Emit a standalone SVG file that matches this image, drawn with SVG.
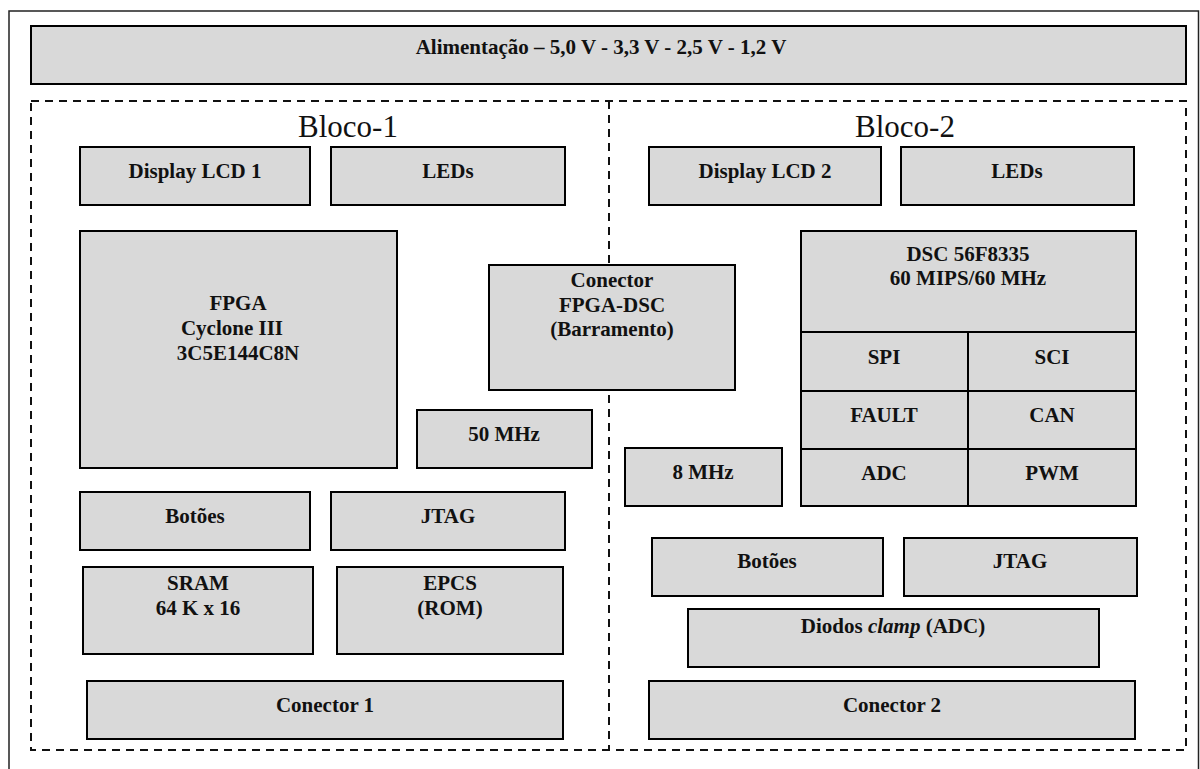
<svg xmlns="http://www.w3.org/2000/svg" width="1200" height="769" viewBox="0 0 1200 769">
  <style>
    .box { fill: #d9d9d9; stroke: #000; stroke-width: 2; }
    .cell { fill: none; stroke: #000; stroke-width: 2; }
    .lbl { font-family: "Liberation Serif", "Times New Roman", serif; font-weight: bold; font-size: 21px; text-anchor: middle; fill: #111; }
    .title { font-family: "Liberation Serif", "Times New Roman", serif; font-size: 31px; text-anchor: middle; fill: #111; }
    .frame { fill: none; stroke: #111; stroke-width: 2; stroke-dasharray: 8 6; }
  </style>

  <rect x="0" y="0" width="1200" height="769" fill="#fff"/>
  <!-- outer border (open at the bottom edge of the sheet) -->
  <rect x="9" y="11" width="1189.5" height="770" fill="none" stroke="#222" stroke-width="1.5"/>

  <!-- power supply bar -->
  <g id="alimentacao">
    <rect class="box" x="31" y="26" width="1155" height="58"/>
    <text class="lbl" x="601" y="54">Alimentação – 5,0 V - 3,3 V - 2,5 V - 1,2 V</text>
  </g>

  <!-- dashed block frames -->
  <g id="blocos">
    <rect class="frame" x="31" y="101" width="1155" height="649"/>
    <line class="frame" x1="609" y1="101" x2="609" y2="750"/>
    <text class="title" x="348" y="137">Bloco-1</text>
    <text class="title" x="905" y="137">Bloco-2</text>
  </g>

  <!-- Bloco-1 -->
  <g id="lcd1">
    <rect class="box" x="80" y="147" width="230" height="58"/>
    <text class="lbl" x="195" y="178">Display LCD 1</text>
  </g>
  <g id="leds1">
    <rect class="box" x="331" y="147" width="234" height="58"/>
    <text class="lbl" x="448" y="178">LEDs</text>
  </g>
  <g id="fpga">
    <rect class="box" x="80" y="231" width="317" height="237"/>
    <text class="lbl" x="238" y="310">FPGA</text>
    <text class="lbl" x="232" y="335">Cyclone III</text>
    <text class="lbl" x="238" y="360">3C5E144C8N</text>
  </g>
  <g id="clk50">
    <rect class="box" x="417" y="410" width="175" height="58"/>
    <text class="lbl" x="504" y="441">50 MHz</text>
  </g>
  <g id="botoes1">
    <rect class="box" x="80" y="492" width="230" height="58"/>
    <text class="lbl" x="195" y="523">Botões</text>
  </g>
  <g id="jtag1">
    <rect class="box" x="331" y="492" width="234" height="58"/>
    <text class="lbl" x="448" y="523">JTAG</text>
  </g>
  <g id="sram">
    <rect class="box" x="83" y="567" width="230" height="87"/>
    <text class="lbl" x="198" y="590">SRAM</text>
    <text class="lbl" x="198" y="615">64 K x 16</text>
  </g>
  <g id="epcs">
    <rect class="box" x="337" y="567" width="226" height="87"/>
    <text class="lbl" x="450" y="590">EPCS</text>
    <text class="lbl" x="450" y="615">(ROM)</text>
  </g>
  <g id="conector1">
    <rect class="box" x="87" y="681" width="476" height="58"/>
    <text class="lbl" x="325" y="712">Conector 1</text>
  </g>

  <!-- shared bus connector between the blocks -->
  <g id="conector-fpga-dsc">
    <rect class="box" x="489" y="265" width="246" height="125"/>
    <text class="lbl" x="612" y="287">Conector</text>
    <text class="lbl" x="612" y="312">FPGA-DSC</text>
    <text class="lbl" x="612" y="336">(Barramento)</text>
  </g>

  <!-- Bloco-2 -->
  <g id="lcd2">
    <rect class="box" x="649" y="147" width="232" height="58"/>
    <text class="lbl" x="765" y="178">Display LCD 2</text>
  </g>
  <g id="leds2">
    <rect class="box" x="901" y="147" width="233" height="58"/>
    <text class="lbl" x="1017" y="178">LEDs</text>
  </g>
  <g id="dsc">
    <rect class="box" x="801" y="231" width="335" height="275"/>
    <line class="cell" x1="801" y1="332" x2="1136" y2="332"/>
    <line class="cell" x1="801" y1="391" x2="1136" y2="391"/>
    <line class="cell" x1="801" y1="449" x2="1136" y2="449"/>
    <line class="cell" x1="968" y1="332" x2="968" y2="506"/>
    <text class="lbl" x="968" y="261">DSC 56F8335</text>
    <text class="lbl" x="968" y="285">60 MIPS/60 MHz</text>
    <text class="lbl" x="884" y="364">SPI</text>
    <text class="lbl" x="1052" y="364">SCI</text>
    <text class="lbl" x="884" y="422">FAULT</text>
    <text class="lbl" x="1052" y="422">CAN</text>
    <text class="lbl" x="884" y="480">ADC</text>
    <text class="lbl" x="1052" y="480">PWM</text>
  </g>
  <g id="clk8">
    <rect class="box" x="625" y="448" width="157" height="58"/>
    <text class="lbl" x="703" y="479">8 MHz</text>
  </g>
  <g id="botoes2">
    <rect class="box" x="652" y="538" width="231" height="58"/>
    <text class="lbl" x="767" y="568">Botões</text>
  </g>
  <g id="jtag2">
    <rect class="box" x="904" y="538" width="233" height="58"/>
    <text class="lbl" x="1020" y="568">JTAG</text>
  </g>
  <g id="diodos">
    <rect class="box" x="688" y="609" width="411" height="58"/>
    <text class="lbl" x="893" y="633">Diodos <tspan font-style="italic">clamp</tspan> (ADC)</text>
  </g>
  <g id="conector2">
    <rect class="box" x="649" y="681" width="486" height="58"/>
    <text class="lbl" x="892" y="712">Conector 2</text>
  </g>
</svg>
